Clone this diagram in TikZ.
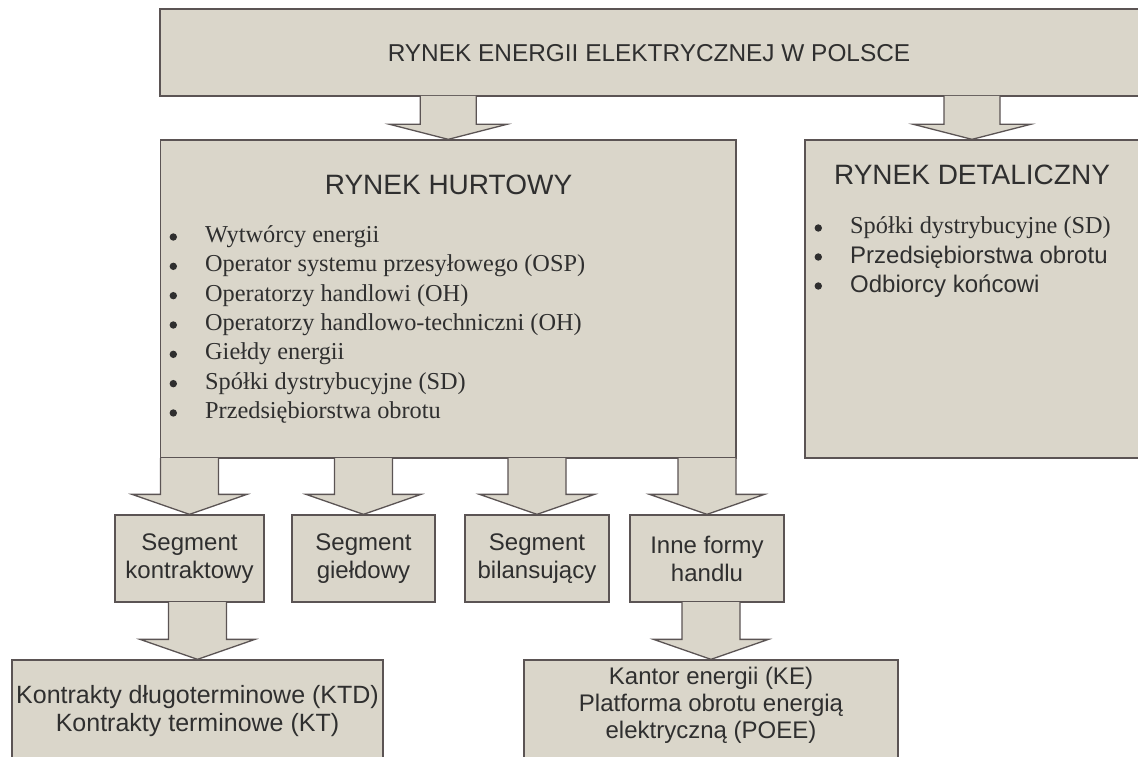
\documentclass[tikz,border=0pt]{standalone}
\usepackage{fontspec}
\setmainfont{Liberation Serif}
\newfontfamily\sansf{Liberation Sans}
\newfontfamily\serff{Liberation Serif}
\usetikzlibrary{calc}

\definecolor{boxfill}{HTML}{DAD6CA}
\definecolor{boxline}{HTML}{5B5454}
\definecolor{txtcol}{HTML}{2F2F2F}

% block arrow from node #1 (bottom) to node #2 (top), centred on #2
% #3 shaft half width, #4 head half width, #5 head length
\newcommand\blockarrow[5]{%
  \fill[boxfill] let \p1=(#2.north), \p2=(#1.south) in
    ({\x1-#3},{\y2+0.65pt}) -- ({\x1-#3},{\y1+#5}) -- ({\x1-#4},{\y1+#5}) -- (\x1,\y1)
    -- ({\x1+#4},{\y1+#5}) -- ({\x1+#3},{\y1+#5}) -- ({\x1+#3},{\y2+0.65pt}) -- cycle;
  \draw[arrowline] let \p1=(#2.north), \p2=(#1.south) in
    ({\x1-#3},{\y2+0.65pt}) -- ({\x1-#3},{\y1+#5}) -- ({\x1-#4},{\y1+#5}) -- (\x1,\y1)
    -- ({\x1+#4},{\y1+#5}) -- ({\x1+#3},{\y1+#5}) -- ({\x1+#3},{\y2+0.65pt});
}

\begin{document}
\begin{tikzpicture}[x=1pt,y=-1pt,
  box/.style={draw=boxline, fill=boxfill, line width=1.3pt, rectangle, inner sep=0pt},
  arrowline/.style={draw=boxline, line width=1.3pt},
  bulletdot/.style={fill=txtcol},
  title/.style={inner sep=0pt, text=txtcol, font=\sansf\fontsize{28}{32}\selectfont},
  serifitem/.style={anchor=base west, inner sep=0pt, text=txtcol, font=\serff\fontsize{24.3}{29}\selectfont},
  sansitem/.style={anchor=base west, inner sep=0pt, text=txtcol, font=\sansf\fontsize{24}{29}\selectfont},
  segbox/.style={box, minimum height=87pt, align=center, text=txtcol, font=\sansf\fontsize{24}{28}\selectfont},
  sanstext/.style={inner sep=0pt, align=center, text=txtcol}
]
\useasboundingbox (0,0) rectangle (1138,757);
\clip (0,0) rectangle (1138,757);
\fill[white] (0,0) rectangle (1138,757);

% boxes
\node[box, minimum width=980pt, minimum height=87pt] (top) at (650,52.5) {};
\node[box, minimum width=575.5pt, minimum height=318pt] (hurt) at (448.25,299) {};
\node[box, minimum width=334pt, minimum height=318pt] (det) at (972,299) {};

\node[segbox, minimum width=149pt] (seg1) at (189.5,558.5) {Segment\\kontraktowy};
\node[segbox, minimum width=143pt] (seg2) at (363.5,558.5) {Segment\\giełdowy};
\node[segbox, minimum width=144pt] (seg3) at (537,558.5) {Segment\\bilansujący};
\node[segbox, minimum width=154pt] (seg4) at (707,558.5) {Inne formy\\handlu};

\node[box, minimum width=371pt, minimum height=110pt] (b1) at (197.5,715) {};
\node[box, minimum width=374pt, minimum height=110pt] (b2) at (711,715) {};

% arrows
\blockarrow{top}{hurt}{28pt}{58.5pt}{15pt}
\blockarrow{top}{det}{28pt}{58.5pt}{15pt}
\blockarrow{hurt}{seg1}{29pt}{57.5pt}{20pt}
\blockarrow{hurt}{seg2}{29pt}{57.5pt}{20pt}
\blockarrow{hurt}{seg3}{29pt}{57.5pt}{20pt}
\blockarrow{hurt}{seg4}{29pt}{57.5pt}{20pt}
\blockarrow{seg1}{b1}{29pt}{57.5pt}{20pt}
\blockarrow{seg4}{b2}{29pt}{57.5pt}{20pt}

% texts
\node[title, font=\sansf\fontsize{24.4}{28}\selectfont] (toptitle) at (649,53) {RYNEK ENERGII ELEKTRYCZNEJ W POLSCE};
\node[title] (hurttitle) at (448.5,185) {RYNEK HURTOWY};
\node[title] (dettitle) at (972,175) {RYNEK DETALICZNY};

\foreach \t [count=\i] in {Wytwórcy energii, Operator systemu przesyłowego (OSP), Operatorzy handlowi (OH), Operatorzy handlowo-techniczni (OH), Giełdy energii, Spółki dystrybucyjne (SD), Przedsiębiorstwa obrotu}{
  \node[serifitem] (hl\i) at (205,{242.5+29.33*(\i-1)}) {\t};
  \fill[bulletdot] (173.3,{237+29.33*(\i-1)}) circle (3.7pt);
}

\node[serifitem] (dl1) at (850,233.5) {Spółki dystrybucyjne (SD)};
\node[sansitem] (dl2) at (850,263.2) {Przedsiębiorstwa obrotu};
\node[sansitem] (dl3) at (850,292.2) {Odbiorcy końcowi};
\foreach \yy in {228,257,286}
  \fill[bulletdot] (818.3,\yy) circle (3.7pt);

\node[sanstext, font=\sansf\fontsize{25}{28}\selectfont] (b1text) at (197.5,711) {Kontrakty długoterminowe (KTD)\\Kontrakty terminowe (KT)};
\node[sanstext, font=\sansf\fontsize{24}{27}\selectfont] (b2text) at (711,705) {Kantor energii (KE)\\Platforma obrotu energią\\elektryczną (POEE)};
\end{tikzpicture}
\end{document}
